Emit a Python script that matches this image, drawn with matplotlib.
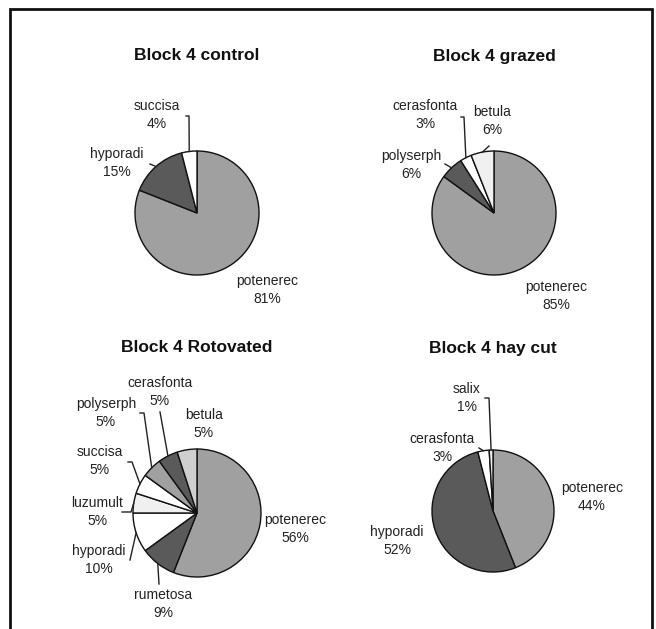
import numpy as np
import matplotlib
matplotlib.use('Agg')
import matplotlib.pyplot as plt
from matplotlib.patches import Rectangle

plt.rcParams['font.family'] = ['Liberation Sans', 'DejaVu Sans']

# species shares per treatment (percent), clockwise from 12 o'clock
control_species = ['potenerec', 'hyporadi', 'succisa']
control_pct = [81, 15, 4]

grazed_species = ['potenerec', 'polyserph', 'cerasfonta', 'betula']
grazed_pct = [85, 6, 3, 6]

roto_species = ['potenerec', 'rumetosa', 'hyporadi', 'luzumult',
                'succisa', 'polyserph', 'cerasfonta', 'betula']
roto_pct = [56, 9, 10, 5, 5, 5, 5, 5]

haycut_species = ['potenerec', 'hyporadi', 'cerasfonta', 'salix']
haycut_pct = [44, 52, 3, 1]

titles = ['Block 4 control', 'Block 4 grazed', 'Block 4 Rotovated', 'Block 4 hay cut']

# grey fills
LIGHT = '#a0a0a0'
DARK = '#5a5a5a'
WHITE = '#ffffff'
PALE = '#f0f0f0'
SILVER = '#cfcfcf'

W, H = 656, 629

panels = [
    dict(species=control_species, pct=control_pct, title=titles[0],
         center=(197, 213), r=62, title_y=56,
         colors=[LIGHT, DARK, WHITE],
         labels=[(267, 290), (117, 163), (157, 115)],
         leaders=[None, [(150, 164)], [(186, 116), (189, 116)]]),
    dict(species=grazed_species, pct=grazed_pct, title=titles[1],
         center=(494, 213), r=62, title_y=56,
         colors=[LIGHT, DARK, WHITE, PALE],
         labels=[(556, 296), (411, 165), (425, 115), (492, 121)],
         leaders=[None, [(445, 164)], [(461, 117), (464, 117)], [(489, 146)]]),
    dict(species=roto_species, pct=roto_pct, title=titles[2],
         center=(197, 513), r=64, title_y=348,
         colors=[LIGHT, DARK, WHITE, PALE, WHITE, LIGHT, DARK, SILVER],
         labels=[(295, 529), (163, 604), (99, 560), (97, 512),
                 (100, 461), (106, 413), (160, 392), (204, 424)],
         leaders=[None, [(159, 584)], [(130, 560)], [(122, 512), (131, 512)],
                  [(128, 462), (132, 462)], [(140, 413), (144, 413)],
                  [(160, 412)], None]),
    dict(species=haycut_species, pct=haycut_pct, title=titles[3],
         center=(493, 511), r=61, title_y=348,
         colors=[LIGHT, DARK, WHITE, PALE],
         labels=[(592, 497), (397, 541), (442, 448), (467, 398)],
         leaders=[None, None, [(479, 448)], [(485, 398), (489, 398)]]),
]

fig = plt.figure(figsize=(W / 100, H / 100), dpi=100)
fig.patch.set_facecolor('white')
ax = fig.add_axes([0, 0, 1, 1])

for p in panels:
    cx, cy = p['center']
    cy_up = H - cy
    wedges, _ = ax.pie(p['pct'], colors=p['colors'], startangle=90,
                       counterclock=False, center=(cx, cy_up), radius=p['r'],
                       wedgeprops=dict(edgecolor='#111111', linewidth=1))
    ax.text(cx, H - p['title_y'], p['title'], ha='center', va='center',
            fontsize=12.5, fontweight='bold', color='#111111')
    for w, name, val, (lx, ly), lead in zip(wedges, p['species'], p['pct'],
                                             p['labels'], p['leaders']):
        ax.text(lx, H - ly, f'{name}\n{val}%', ha='center', va='center',
                multialignment='center', fontsize=10, color='#222222',
                linespacing=1.3)
        if lead is not None:
            # leader runs from the label to the middle of the slice's rim
            mid = np.deg2rad((w.theta1 + w.theta2) / 2)
            ex = cx + p['r'] * np.cos(mid)
            ey = cy_up + p['r'] * np.sin(mid)
            xs = [pt[0] for pt in lead] + [ex]
            ys = [H - pt[1] for pt in lead] + [ey]
            ax.plot(xs, ys, color='#222222', lw=1)

# outer border of the sheet
ax.add_patch(Rectangle((10, -60), 642, H - 9 + 60, fill=False, lw=2,
                       ec='#111111', clip_on=False))

ax.set_xlim(0, W)
ax.set_ylim(0, H)
ax.set_aspect('auto')
ax.axis('off')

fig.savefig('out.png', dpi=100)
